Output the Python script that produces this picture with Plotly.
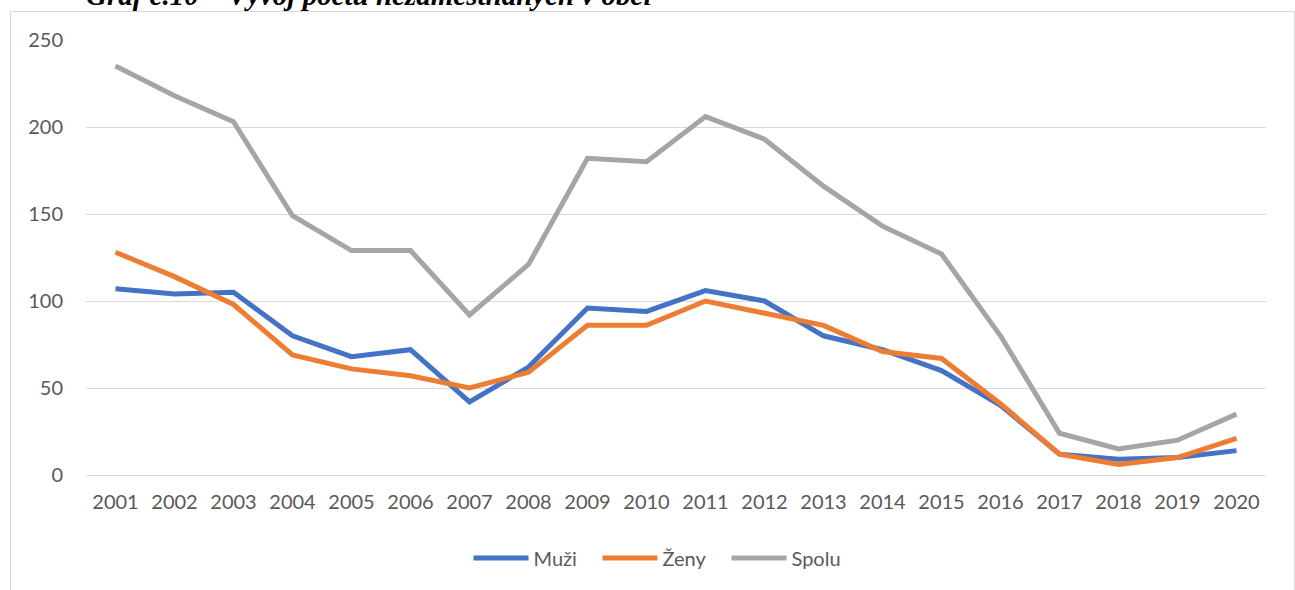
import plotly.graph_objects as go

years = [str(y) for y in range(2001, 2021)]
muzi = [107, 104, 105, 80, 68, 72, 42, 62, 96, 94, 106, 100, 80, 72, 60, 40, 12, 9, 10, 14]
zeny = [128, 114, 98, 69, 61, 57, 50, 59, 86, 86, 100, 93, 86, 71, 67, 41, 12, 6, 10, 21]
spolu = [235, 218, 203, 149, 129, 129, 92, 121, 182, 180, 206, 193, 166, 143, 127, 80, 24, 15, 20, 35]
y_ticks = [0, 50, 100, 150, 200, 250]
title_text = "Graf č.10 – Vývoj počtu nezamestnaných v obci"

W, H = 1295, 590
L, R, T, B = 86, 1266, 40, 475

def px_x(px):
    return (px - L) / (R - L)

def px_y(py):
    return (B - py) / (B - T)

FONT = "Lato"
TXT = "#595959"

fig = go.Figure()
for name, vals, col in [("Muži", muzi, "#4472C4"), ("Ženy", zeny, "#ED7D31"), ("Spolu", spolu, "#A5A5A5")]:
    fig.add_trace(go.Scatter(x=years, y=vals, name=name, mode="lines",
                             line=dict(color=col, width=5)))

fig.update_layout(
    width=W, height=H,
    margin=dict(l=L, r=W - R, t=T, b=H - B),
    paper_bgcolor="white", plot_bgcolor="white",
    font=dict(family=FONT, size=20, color=TXT),
    showlegend=True,
    legend=dict(orientation="h", x=px_x(662), xanchor="center", y=px_y(558), yanchor="middle",
                font=dict(family=FONT, size=20, color=TXT), itemwidth=55,
                entrywidth=59, entrywidthmode="pixels", tracegroupgap=0),
    xaxis=dict(type="category", range=[-0.5, 19.5], showgrid=False, showline=False,
               ticks="", ticklabelstandoff=13, tickfont=dict(family=FONT, size=20, color=TXT),
               fixedrange=True),
    yaxis=dict(range=[0, 250], tickvals=y_ticks, showgrid=True, gridcolor="#D9D9D9", gridwidth=1,
               zeroline=True, zerolinecolor="#D9D9D9", zerolinewidth=1, showline=False,
               ticks="", ticklabelstandoff=22, tickfont=dict(family=FONT, size=20, color=TXT),
               fixedrange=True),
    shapes=[dict(type="rect", xref="paper", yref="paper",
                 x0=px_x(10.5), x1=px_x(1294.5), y0=px_y(600), y1=px_y(11.5),
                 line=dict(color="#D9D9D9", width=1), fillcolor="rgba(0,0,0,0)", layer="below")],
    annotations=[dict(text=title_text, xref="paper", yref="paper", x=px_x(84), y=px_y(13),
                      xanchor="left", yanchor="bottom", showarrow=False,
                      font=dict(family="Liberation Serif", size=29, color="black",
                                style="italic", weight="bold"))],
)

fig.write_html("out.html", config={"displayModeBar": False},
               post_script="document.body.style.margin='0';document.body.style.overflow='hidden';")
